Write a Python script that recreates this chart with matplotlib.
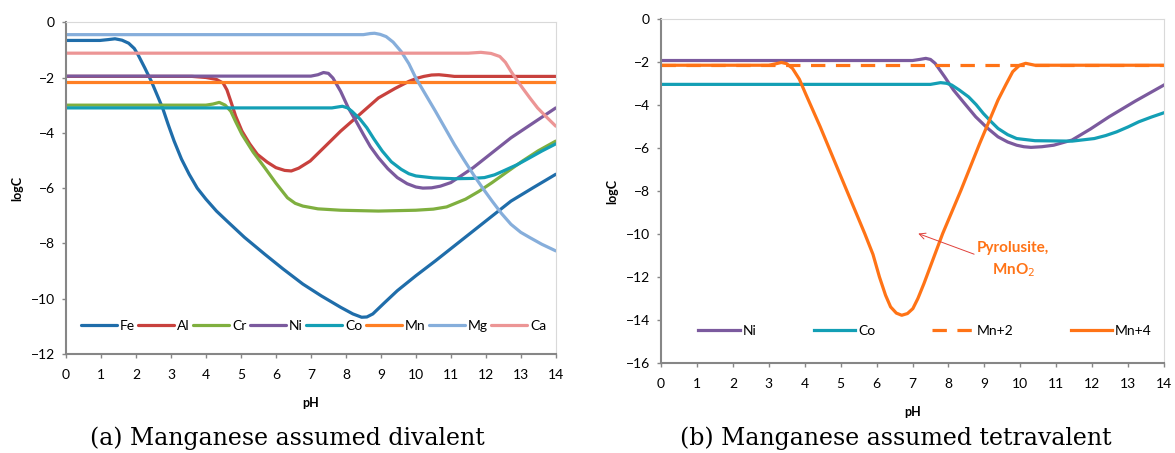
import numpy as np
import matplotlib.pyplot as plt

plt.rcParams['font.family'] = ['Lato', 'DejaVu Sans']

# Panel (a): manganese assumed divalent
fe_ph = [0, 0.97, 1.2, 1.4, 1.6, 1.79, 1.95, 2.06, 2.25, 2.44, 2.6, 2.76, 2.92, 3.09, 3.3, 3.52, 3.75, 4.0, 4.3, 4.6, 5.1, 5.68, 6.2, 6.77, 7.3, 7.85, 8.2, 8.45, 8.6, 8.77, 9.1, 9.47, 10.0, 10.56, 11.1, 11.64, 12.18, 12.72, 13.36, 14]
fe_c = [-0.66, -0.66, -0.63, -0.6, -0.65, -0.76, -0.95, -1.18, -1.65, -2.14, -2.62, -3.1, -3.7, -4.3, -4.95, -5.5, -6.0, -6.4, -6.83, -7.19, -7.78, -8.39, -8.92, -9.47, -9.9, -10.31, -10.55, -10.67, -10.66, -10.55, -10.15, -9.71, -9.17, -8.63, -8.09, -7.55, -7.01, -6.47, -5.98, -5.5]
al_ph = [0, 3.6, 4.0, 4.3, 4.49, 4.6, 4.71, 4.85, 5.03, 5.25, 5.47, 5.75, 6.0, 6.25, 6.44, 6.65, 6.98, 7.4, 7.85, 8.4, 8.93, 9.4, 9.8, 10.05, 10.23, 10.45, 10.66, 10.9, 11.1, 14]
al_c = [-1.96, -1.96, -2.0, -2.07, -2.2, -2.45, -2.86, -3.4, -3.94, -4.4, -4.78, -5.06, -5.26, -5.36, -5.38, -5.28, -5.02, -4.5, -3.94, -3.33, -2.74, -2.4, -2.14, -2.02, -1.96, -1.91, -1.9, -1.93, -1.96, -1.96]
cr_ph = [0, 4.0, 4.2, 4.38, 4.55, 4.71, 4.85, 5.03, 5.35, 5.68, 6.0, 6.33, 6.55, 6.77, 7.2, 7.85, 8.93, 10.0, 10.5, 10.88, 11.42, 11.8, 12.18, 12.6, 13.05, 13.5, 14]
cr_c = [-3.0, -3.0, -2.96, -2.9, -3.0, -3.22, -3.6, -4.06, -4.7, -5.26, -5.82, -6.35, -6.55, -6.65, -6.75, -6.8, -6.83, -6.8, -6.76, -6.68, -6.4, -6.12, -5.8, -5.42, -5.02, -4.65, -4.3]
ni_ph = [0, 7.0, 7.2, 7.36, 7.5, 7.63, 7.85, 8.07, 8.3, 8.5, 8.7, 8.93, 9.2, 9.47, 9.75, 10.0, 10.2, 10.45, 10.7, 11.0, 11.3, 11.64, 12.18, 12.72, 13.36, 14]
ni_c = [-1.95, -1.95, -1.9, -1.82, -1.85, -2.02, -2.5, -3.1, -3.6, -4.06, -4.5, -4.9, -5.3, -5.62, -5.84, -5.96, -6.0, -5.99, -5.93, -5.8, -5.55, -5.26, -4.72, -4.18, -3.64, -3.1]
co_ph = [0, 7.6, 7.9, 8.05, 8.17, 8.4, 8.6, 8.8, 9.04, 9.3, 9.58, 9.8, 10.0, 10.5, 11.1, 11.6, 11.96, 12.25, 12.5, 12.9, 13.26, 13.6, 14]
co_c = [-3.1, -3.1, -3.04, -3.1, -3.22, -3.5, -3.82, -4.22, -4.66, -5.05, -5.32, -5.48, -5.56, -5.63, -5.66, -5.65, -5.62, -5.52, -5.38, -5.15, -4.9, -4.66, -4.4]
mn_ph = [0, 14]
mn_c = [-2.18, -2.18]
mg_ph = [0, 8.5, 8.7, 8.82, 8.98, 9.15, 9.35, 9.58, 9.8, 10.0, 10.28, 10.56, 10.83, 11.1, 11.37, 11.64, 11.91, 12.18, 12.45, 12.72, 13.0, 13.26, 13.6, 14]
mg_c = [-0.45, -0.45, -0.41, -0.4, -0.44, -0.52, -0.72, -1.06, -1.5, -2.02, -2.62, -3.22, -3.82, -4.42, -4.97, -5.5, -6.0, -6.47, -6.92, -7.31, -7.6, -7.79, -8.03, -8.27]
ca_ph = [0, 11.5, 11.86, 12.15, 12.4, 12.56, 12.72, 12.88, 13.05, 13.26, 13.48, 13.75, 14]
ca_c = [-1.12, -1.12, -1.09, -1.13, -1.24, -1.45, -1.78, -2.08, -2.38, -2.74, -3.1, -3.45, -3.76]

# Panel (b): manganese assumed tetravalent
ni2_ph = [0, 7.0, 7.2, 7.37, 7.5, 7.63, 7.9, 8.14, 8.45, 8.76, 9.07, 9.38, 9.65, 9.9, 10.1, 10.3, 10.6, 10.93, 11.44, 11.95, 12.47, 13.2, 14]
ni2_c = [-1.93, -1.93, -1.88, -1.83, -1.88, -2.06, -2.7, -3.3, -3.93, -4.55, -5.05, -5.48, -5.72, -5.87, -5.94, -5.97, -5.94, -5.87, -5.63, -5.12, -4.55, -3.82, -3.07]
co2_ph = [0, 7.5, 7.78, 7.95, 8.09, 8.3, 8.56, 8.77, 8.97, 9.18, 9.38, 9.65, 9.9, 10.41, 11.44, 12.06, 12.38, 12.68, 13.0, 13.3, 13.65, 14]
co2_c = [-3.04, -3.04, -2.96, -2.99, -3.07, -3.3, -3.62, -3.98, -4.39, -4.76, -5.09, -5.38, -5.56, -5.66, -5.68, -5.56, -5.42, -5.25, -5.02, -4.78, -4.56, -4.36]
mn2_ph = [0, 14]
mn2_c = [-2.15, -2.15]
mn4_ph = [0, 3.0, 3.2, 3.35, 3.5, 3.66, 3.85, 4.02, 4.43, 5.05, 5.67, 5.9, 6.08, 6.25, 6.39, 6.55, 6.7, 6.86, 7.01, 7.15, 7.32, 7.84, 8.35, 8.87, 9.38, 9.6, 9.79, 9.98, 10.15, 10.41, 14]
mn4_c = [-2.15, -2.15, -2.08, -2.02, -2.08, -2.3, -2.8, -3.46, -5.01, -7.5, -9.98, -10.95, -12.0, -12.85, -13.39, -13.68, -13.78, -13.7, -13.47, -13.0, -12.3, -9.98, -7.96, -5.79, -3.77, -3.05, -2.45, -2.15, -2.06, -2.15, -2.15]

colors = {'Fe': '#1F6DAA', 'Al': '#C8413D', 'Cr': '#7FAF3F', 'Ni': '#7B5A9E',
          'Co': '#139FB5', 'Mn': '#FF7F24', 'Mg': '#86AEDB', 'Ca': '#EC9595'}
orange = '#FF7316'
lw = 2.3

fig = plt.figure(figsize=(11.75, 4.53), dpi=100)
ax1 = fig.add_axes([0.0562, 0.2185, 0.4168, 0.7325])
ax2 = fig.add_axes([0.5626, 0.1987, 0.428, 0.7593])


def style(ax, ymin):
    ax.set_xlim(0, 14)
    ax.set_ylim(ymin, 0)
    ax.set_xticks(range(0, 15))
    ax.set_yticks(range(ymin, 1, 2))
    for side in ['left', 'bottom']:
        ax.spines[side].set_color('#868686')
        ax.spines[side].set_linewidth(1.5)
    for side in ['top', 'right']:
        ax.spines[side].set_color('#D9D9D9')
        ax.spines[side].set_linewidth(0.8)
    ax.tick_params(direction='out', color='#868686', labelsize=10, length=3, width=1)
    ax.tick_params(axis='x', pad=8)
    ax.tick_params(axis='y', pad=5)
    ax.set_xlabel('pH', fontsize=9, fontweight='bold', labelpad=11)
    ax.set_ylabel('logC', fontsize=9, fontweight='bold', labelpad=5)


for name, ph, c in [('Fe', fe_ph, fe_c), ('Al', al_ph, al_c), ('Cr', cr_ph, cr_c),
                    ('Ni', ni_ph, ni_c), ('Co', co_ph, co_c), ('Mn', mn_ph, mn_c),
                    ('Mg', mg_ph, mg_c), ('Ca', ca_ph, ca_c)]:
    ax1.plot(ph, c, color=colors[name], lw=lw, label=name, solid_capstyle='round')
style(ax1, -12)
ax1.legend(loc='lower center', bbox_to_anchor=(0.505, 0.03), ncol=8, frameon=False,
           fontsize=10, handlelength=2.6, handletextpad=0.2, columnspacing=0.25)

ax2.plot(ni2_ph, ni2_c, color=colors['Ni'], lw=lw, label='Ni')
ax2.plot(co2_ph, co2_c, color=colors['Co'], lw=lw, label='Co')
ax2.plot(mn2_ph, mn2_c, color=orange, lw=lw, ls=(0, (4.5, 3.3)), label='Mn+2')
ax2.plot(mn4_ph, mn4_c, color=orange, lw=lw, label='Mn+4')
style(ax2, -16)
ax2.legend(loc='lower center', bbox_to_anchor=(0.525, 0.04), ncol=4, frameon=False,
           fontsize=10, handlelength=3.0, handletextpad=0.2, columnspacing=4.1)
ax2.annotate('Pyrolusite,\nMnO$_2$', xy=(7.16, -9.98), xytext=(9.8, -11.2),
             color=orange, fontsize=11, fontweight='bold', ha='center', va='center',
             linespacing=1.5,
             arrowprops=dict(arrowstyle='->', color='#E0403A', lw=0.7,
                             shrinkA=0, shrinkB=0, relpos=(0.0, 0.62)))

fig.text(0.245, 0.0177, '(a) Manganese assumed divalent', fontsize=17,
         family='DejaVu Serif', ha='center', va='baseline')
fig.text(0.762, 0.0177, '(b) Manganese assumed tetravalent', fontsize=17,
         family='DejaVu Serif', ha='center', va='baseline')

fig.savefig('out.png', dpi=100)
